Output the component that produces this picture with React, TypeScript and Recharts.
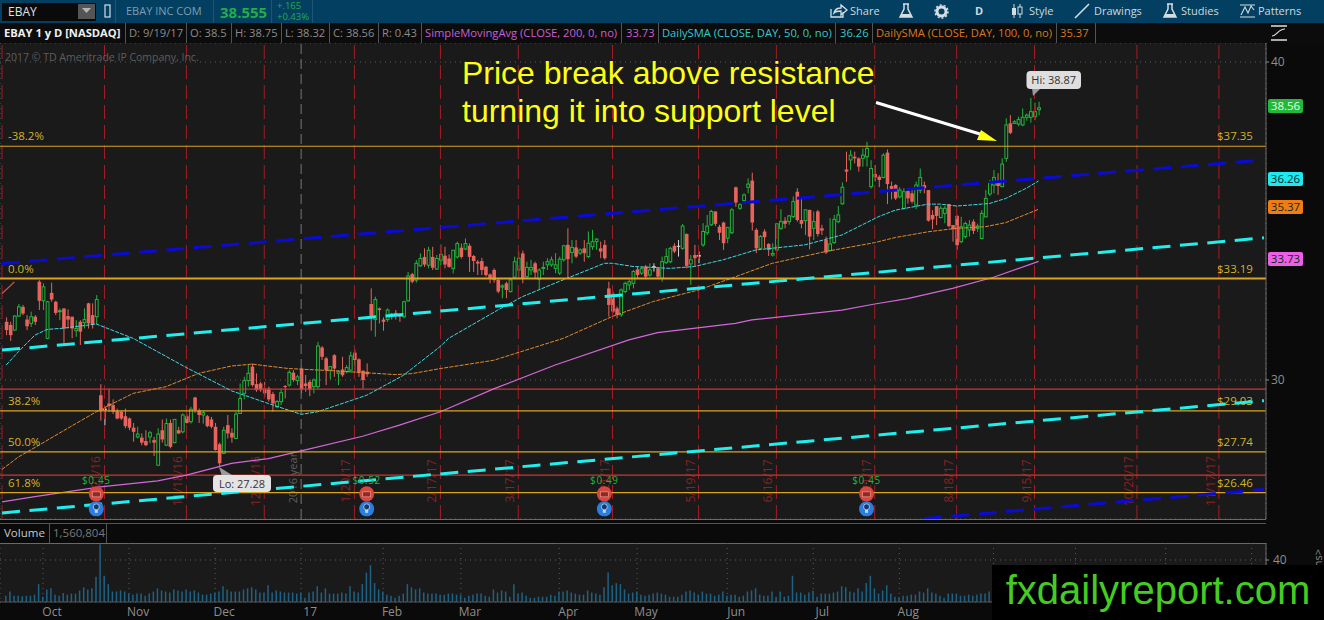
import {
  Bar,
  CartesianGrid,
  ComposedChart,
  Line,
  ReferenceDot,
  ReferenceLine,
  XAxis,
  YAxis,
} from "recharts";

// daily bars as [open, high, low, close]
const sep16 = [
  [31.83, 31.97, 31.41, 31.57], [31.73, 31.83, 31.23, 31.41], [31.57, 32.04, 31.55, 32.01],
  [32.01, 32.39, 31.99, 32.30], [32.30, 32.36, 32.04, 32.09], [31.90, 32.04, 31.57, 31.69],
  [31.78, 32.15, 31.67, 31.99], [31.99, 32.04, 31.73, 31.83], [33.09, 33.14, 32.20, 32.49],
];
const oct16 = [
  [32.49, 33.04, 32.20, 32.93], [31.31, 32.49, 31.28, 32.46], [32.74, 33.06, 32.46, 32.53],
  [32.46, 32.49, 32.04, 32.11], [32.15, 32.25, 31.88, 32.18], [32.25, 32.25, 31.15, 31.62],
  [32.01, 32.22, 31.62, 31.90], [31.99, 31.99, 31.31, 31.62], [31.55, 31.88, 31.36, 31.62],
  [31.83, 31.88, 31.10, 31.52], [31.80, 32.25, 31.62, 31.90], [32.41, 32.43, 31.62, 31.78],
  [32.04, 32.41, 31.62, 31.73], [31.99, 32.67, 31.76, 32.53], [29.52, 29.87, 28.72, 29.03],
  [29.05, 29.16, 28.58, 29.10], [29.26, 29.73, 29.00, 29.18], [29.21, 29.39, 28.93, 29.00],
  [29.03, 29.10, 28.76, 28.79], [29.00, 29.03, 28.74, 28.79], [28.86, 29.10, 28.48, 28.55],
];
const nov16 = [
  [28.79, 28.82, 28.42, 28.50], [28.50, 28.65, 28.06, 28.37], [28.21, 28.53, 28.16, 28.30],
  [28.19, 28.32, 27.95, 28.03], [28.08, 28.42, 27.92, 27.95], [28.21, 28.40, 28.01, 28.34],
  [28.11, 28.21, 27.61, 28.03], [27.32, 28.48, 27.32, 28.30], [28.42, 28.76, 28.03, 28.13],
  [27.95, 28.79, 27.92, 28.63], [28.65, 28.76, 27.85, 27.90], [28.03, 28.76, 28.01, 28.76],
  [28.42, 28.53, 28.30, 28.32], [28.37, 28.95, 28.32, 28.90], [28.86, 28.93, 28.63, 28.65],
  [28.69, 29.16, 28.63, 29.08], [29.45, 29.47, 28.97, 29.05], [29.03, 29.10, 28.65, 28.90],
  [28.90, 29.03, 28.63, 28.97], [28.86, 28.90, 28.51, 28.55], [28.76, 28.84, 28.48, 28.53],
];
const dec16 = [
  [28.53, 28.65, 27.78, 27.80], [27.98, 28.03, 27.28, 27.38], [27.69, 28.53, 27.67, 28.42],
  [28.58, 28.90, 28.16, 28.32], [28.34, 28.48, 28.03, 28.19], [28.16, 29.00, 28.14, 28.93],
  [28.95, 29.89, 28.93, 29.42], [29.58, 30.10, 29.39, 29.98], [29.98, 30.47, 29.79, 30.21],
  [30.42, 30.52, 29.79, 29.84], [29.87, 30.21, 29.63, 29.68], [29.89, 29.94, 29.63, 29.68],
  [29.73, 29.94, 29.47, 29.58], [29.73, 29.79, 29.32, 29.39], [29.56, 29.63, 29.00, 29.26],
  [29.16, 29.37, 29.11, 29.32], [29.32, 29.73, 29.21, 29.60], [29.81, 29.84, 29.42, 29.79],
  [29.84, 30.31, 29.79, 30.24], [30.23, 30.31, 29.94, 30.00], [29.98, 30.16, 29.84, 30.10],
];
const jan17 = [
  [30.36, 30.39, 29.58, 29.70], [29.89, 30.16, 29.63, 29.81], [29.94, 30.00, 29.49, 29.70],
  [29.79, 30.05, 29.58, 30.00], [29.79, 31.20, 29.73, 31.07], [31.02, 31.07, 30.63, 30.73],
  [30.68, 30.73, 29.84, 30.31], [30.31, 30.44, 30.02, 30.42], [30.78, 30.81, 30.10, 30.36],
  [30.21, 30.31, 29.84, 30.26], [30.33, 30.73, 30.10, 30.15], [30.26, 30.47, 30.21, 30.39],
  [30.31, 30.89, 30.23, 30.76], [30.86, 30.96, 30.23, 30.63], [30.65, 30.68, 30.10, 30.23],
  [30.29, 30.31, 29.73, 30.00], [30.26, 30.52, 30.10, 30.18], [32.39, 32.88, 31.55, 32.01],
  [31.90, 32.62, 31.36, 32.53], [32.25, 32.28, 31.78, 32.20],
];
const feb17 = [
  [31.90, 31.97, 31.55, 31.83], [31.90, 32.25, 31.83, 32.20], [32.09, 32.11, 31.90, 32.01],
  [32.11, 32.20, 31.90, 32.01], [32.04, 32.09, 31.83, 31.99], [31.99, 32.49, 31.94, 32.46],
  [32.49, 33.40, 32.46, 33.27], [33.33, 33.37, 33.04, 33.09], [33.14, 33.77, 33.06, 33.67],
  [33.59, 33.98, 33.56, 33.82], [33.87, 34.14, 33.56, 33.63], [33.61, 34.19, 33.51, 34.08],
  [33.87, 34.19, 33.46, 33.53], [33.49, 33.93, 33.46, 33.82], [33.77, 34.26, 33.61, 33.95],
  [33.91, 34.19, 33.51, 33.63], [33.82, 33.95, 33.53, 33.56], [33.51, 34.08, 33.35, 34.08],
  [33.87, 34.35, 33.82, 34.29],
];
const mar17 = [
  [34.16, 34.29, 33.82, 33.87], [34.12, 34.45, 34.08, 34.29], [34.22, 34.29, 33.40, 33.87],
  [33.90, 33.93, 33.40, 33.74], [33.72, 33.77, 33.30, 33.66], [33.74, 33.84, 33.30, 33.46],
  [33.56, 33.59, 33.25, 33.30], [33.32, 33.35, 33.04, 33.19], [33.46, 33.51, 33.06, 33.14],
  [33.15, 33.18, 32.73, 32.78], [32.92, 33.01, 32.57, 32.96], [33.04, 33.09, 32.57, 32.83],
  [32.78, 33.20, 32.75, 33.15], [33.23, 33.88, 33.20, 33.72], [33.46, 34.04, 33.20, 33.83],
  [33.98, 34.07, 33.04, 33.20], [33.25, 33.72, 33.20, 33.54], [33.46, 33.78, 33.30, 33.54],
  [33.67, 33.72, 33.20, 33.38], [33.17, 33.51, 32.83, 33.46], [33.51, 33.72, 33.30, 33.54],
  [33.62, 33.83, 33.46, 33.72], [33.62, 33.88, 33.56, 33.78], [33.51, 33.99, 33.36, 33.62],
];
const apr17 = [
  [33.36, 33.88, 33.30, 33.80], [33.78, 34.25, 33.72, 34.22], [34.25, 34.77, 33.20, 33.80],
  [34.01, 34.40, 33.67, 34.17], [34.17, 34.40, 33.83, 33.88], [33.99, 34.14, 33.93, 34.09],
  [34.14, 34.40, 33.72, 33.99], [33.88, 34.67, 33.83, 34.30], [34.19, 34.72, 34.09, 34.35],
  [34.35, 34.46, 34.09, 34.43], [34.14, 34.35, 33.83, 34.04], [34.25, 34.40, 33.78, 33.83],
  [32.88, 33.09, 31.99, 32.36], [32.71, 32.78, 32.10, 32.15], [32.25, 32.31, 31.94, 32.05],
  [32.05, 32.88, 31.99, 32.83], [32.78, 33.09, 32.73, 33.04], [32.99, 33.15, 32.83, 33.09],
  [33.04, 33.46, 32.88, 33.41],
];
const may17 = [
  [33.48, 33.57, 33.20, 33.30], [33.36, 33.57, 33.30, 33.51], [33.57, 33.62, 33.17, 33.25],
  [33.30, 33.67, 33.25, 33.46], [33.52, 33.67, 33.41, 33.58], [33.51, 33.54, 33.20, 33.25],
  [33.20, 33.88, 33.09, 33.72], [33.69, 34.14, 33.65, 33.88], [33.72, 34.19, 33.67, 34.14],
  [34.22, 34.30, 33.99, 34.04], [34.20, 34.40, 33.88, 34.22], [34.14, 34.91, 34.09, 34.84],
  [34.59, 34.61, 33.51, 33.59], [33.65, 33.93, 32.99, 33.78], [33.93, 34.25, 33.57, 33.83],
  [33.88, 34.04, 33.67, 33.93], [34.25, 34.93, 34.19, 34.67], [34.63, 35.19, 34.56, 34.84],
  [34.88, 35.35, 34.84, 35.30], [35.30, 35.30, 34.84, 34.91], [34.82, 34.88, 34.40, 34.63],
  [34.95, 34.98, 34.09, 34.30],
];
const jun17 = [
  [34.46, 34.82, 34.30, 34.79], [34.63, 35.40, 34.59, 35.35], [36.06, 36.08, 35.45, 35.58],
  [35.40, 35.56, 35.35, 35.51], [35.64, 35.87, 35.56, 35.82], [36.06, 36.34, 35.87, 36.16],
  [36.27, 36.52, 34.70, 34.95], [34.72, 34.77, 33.99, 34.14], [34.14, 34.56, 34.09, 34.51],
  [34.67, 34.74, 34.14, 34.49], [34.28, 34.30, 33.90, 34.09], [33.93, 34.30, 33.88, 33.98],
  [34.09, 34.93, 34.04, 34.91], [34.77, 35.37, 34.72, 34.98], [35.01, 35.12, 34.77, 34.91],
  [34.98, 35.19, 34.88, 35.16], [35.14, 35.77, 35.09, 35.61], [35.92, 36.03, 34.98, 35.03],
  [35.03, 35.71, 34.77, 34.91], [35.01, 35.37, 34.56, 35.35], [35.35, 35.35, 34.11, 34.51],
];
const jul17 = [
  [34.77, 35.30, 34.40, 34.98], [35.30, 35.35, 34.51, 34.59], [34.77, 34.88, 34.56, 34.70],
  [34.40, 34.51, 33.96, 34.01], [34.07, 35.09, 34.04, 34.28], [34.32, 35.19, 34.28, 35.05],
  [34.98, 35.47, 34.93, 35.19], [35.54, 36.21, 35.51, 36.06], [36.62, 37.18, 36.23, 36.55],
  [36.92, 37.23, 36.60, 37.07], [37.02, 37.18, 36.81, 36.97], [36.97, 37.00, 36.55, 36.71],
  [36.97, 37.28, 36.71, 37.07], [37.02, 37.49, 36.71, 37.28], [36.08, 36.91, 36.02, 36.65],
  [36.48, 36.76, 36.24, 36.37], [36.39, 36.44, 36.06, 36.29], [36.37, 37.13, 36.34, 37.07],
  [37.15, 37.25, 35.53, 36.16], [36.10, 36.24, 35.68, 35.94], [36.13, 36.16, 35.66, 35.71],
];
const aug17 = [
  [35.76, 36.06, 35.71, 35.97], [35.40, 36.03, 35.37, 35.92], [35.94, 35.99, 35.55, 35.71],
  [35.87, 35.97, 35.55, 35.61], [35.50, 36.24, 35.37, 36.13], [35.97, 36.65, 35.87, 36.37],
  [36.13, 36.24, 35.87, 36.03], [35.97, 35.97, 34.98, 35.01], [35.19, 35.34, 34.74, 35.05],
  [35.47, 35.47, 34.87, 35.16], [35.11, 35.47, 35.08, 35.40], [35.24, 35.47, 34.93, 35.40],
  [35.53, 35.53, 34.80, 34.84], [34.87, 34.87, 34.35, 34.74], [35.16, 35.19, 34.09, 34.24],
  [34.35, 35.13, 34.30, 34.82], [34.51, 34.98, 34.45, 34.92], [34.72, 35.03, 34.51, 34.87],
  [34.98, 35.05, 34.59, 34.69], [34.77, 34.92, 34.66, 34.84], [34.45, 35.34, 34.42, 35.24],
  [35.13, 35.97, 35.11, 35.71], [35.85, 36.29, 35.78, 36.18],
];
const sep17 = [
  [36.13, 36.60, 35.87, 36.37], [36.24, 36.50, 35.82, 36.10], [36.08, 36.97, 36.06, 36.79],
  [36.97, 38.23, 36.86, 38.02], [38.07, 38.33, 37.73, 37.77], [38.07, 38.17, 38.05, 38.12],
  [38.05, 38.28, 37.98, 38.19], [38.02, 38.54, 37.98, 38.26], [38.26, 38.38, 38.15, 38.33],
  [38.26, 38.87, 38.09, 38.44], [38.28, 38.72, 38.17, 38.44], [38.50, 38.75, 38.32, 38.56],
];
const candles = [
  ...sep16, ...oct16, ...nov16, ...dec16, ...jan17, ...feb17, ...mar17,
  ...apr17, ...may17, ...jun17, ...jul17, ...aug17, ...sep17,
];
const unchangedRows = [25, 159, 165, 170];

// volume, millions of shares
const volumes = [
  6, 10, 6, 6, 5.5, 6, 6, 7, 17, 5, 12, 13, 7, 6, 8.5, 7, 8, 8, 11, 14,
  12, 13, 24, 55, 25, 17, 10, 10, 11, 10, 8, 7, 8, 8, 6, 8, 10, 13, 11, 10,
  9, 12, 11, 10, 12, 10, 11, 9, 7, 7, 8, 9, 10, 15, 12, 10, 10, 10, 12, 13,
  14, 12, 9, 9, 16, 9, 11, 10, 9, 9, 9, 8, 9, 4, 9, 10, 15, 9, 13, 8,
  8, 8, 9, 8, 15, 10, 9, 17, 28, 35, 18, 12, 10, 7, 6, 4, 6, 8, 17, 14,
  12, 13, 9, 8, 8, 8, 7, 7, 8, 8, 7, 7, 4, 6, 7, 8, 8, 6, 5, 12,
  9, 11, 10, 5, 17, 8, 9, 6, 4, 4, 5, 5, 5, 7, 6, 10, 10, 11, 9, 8,
  7, 7, 11, 9, 8, 7, 14, 28, 16, 18, 17, 12, 8, 9, 10, 7, 6, 7, 8, 9,
  8, 7, 5, 5, 5, 7, 10, 11, 9, 7, 10, 8, 8, 6, 7, 10, 6, 7, 7, 5,
  6, 10, 11, 13, 7, 6, 6, 10, 5, 10, 5, 6, 25, 9, 9, 7, 9, 11, 5, 8,
  8, 8, 9, 10, 15, 14, 10, 9, 13, 10, 18, 25, 13, 8, 11, 16, 8, 5, 4.5, 6,
  6, 7, 7, 10, 9, 13, 9, 8, 6, 4, 8, 8, 8, 6, 6, 7, 6, 7, 8, 8,
  10, 9, 8, 14, 20, 12, 9, 8, 8, 7, 9, 7, 1.56,
];

// moving averages, read at a number of rows; the line joins them
const ma50Rows = [1, 4, 8, 11, 15, 23, 32, 45, 56, 65, 73, 77, 89, 98, 107, 109, 121, 127, 136, 143, 147, 149, 154, 163, 169, 176, 184, 196, 205, 214, 218, 226, 229, 233, 241, 245, 250, 253];
const ma50Values = [30.47, 30.89, 31.41, 31.59, 31.63, 31.76, 31.31, 30.39, 29.66, 29.26, 28.92, 29.0, 29.52, 30.15, 31.06, 31.31, 32.2, 32.62, 33.1, 33.46, 33.67, 33.67, 33.57, 33.51, 33.57, 33.78, 34.09, 34.25, 34.56, 35.14, 35.34, 35.53, 35.53, 35.47, 35.55, 35.71, 36.03, 36.26];
const ma100Rows = [0, 4, 9, 16, 23, 32, 40, 48, 56, 61, 70, 81, 96, 100, 107, 120, 137, 149, 159, 170, 178, 188, 201, 213, 218, 226, 233, 240, 245, 253];
const ma100Values = [27.19, 27.58, 27.95, 28.48, 29.0, 29.58, 29.79, 30.21, 30.44, 30.5, 30.36, 30.29, 30.17, 30.2, 30.36, 30.62, 31.31, 32.0, 32.47, 32.83, 33.2, 33.67, 34.04, 34.32, 34.48, 34.66, 34.77, 34.82, 34.95, 35.37];
const ma200Rows = [0, 8, 24, 38, 45, 56, 65, 73, 88, 97, 107, 120, 135, 153, 160, 179, 183, 205, 213, 221, 232, 242, 253];
const ma200Values = [26.17, 26.33, 26.64, 26.83, 27.01, 27.38, 27.53, 27.77, 28.23, 28.58, 29.0, 29.72, 30.47, 31.26, 31.49, 31.78, 31.89, 32.2, 32.39, 32.56, 32.88, 33.23, 33.73];

const fibPrices = [37.35, 33.19, 29.03, 27.74, 26.46];
const fibPercents = ["-38.2%", "0.0%", "38.2%", "50.0%", "61.8%"];
const redLevels = [29.71, 27.01];

// the last four months fall under the watermark, so they carry no label
const monthRows = [10, 31, 52, 73, 93, 112, 136, 155, 177, 198, 219, 242, 262, 284, 305];
const monthLabels = ["Oct", "Nov", "Dec", "17", "Feb", "Mar", "Apr", "May", "Jun", "Jul", "Aug", "", "", "", ""];

const expiryRows = [0, 25, 45, 64, 86, 107, 126, 149, 170, 189, 213, 233, 252, 277, 297];
const expiryLabels = ["", "10/21/16", "11/18/16", "12/16/16", "1/20/17", "2/17/17", "3/17/17", "4/21/17", "5/19/17", "6/16/17", "7/21/17", "8/18/17", "9/15/17", "10/20/17", "11/17/17"];
const yearRow = 73;

const earningsRows = [23, 89, 147, 211];
const dividends = ["$0.45", "$0.52", "$0.49", "$0.45"];

const ROW_COUNT = 309;
const rows = Array.from({ length: ROW_COUNT }, (_, r) => {
  const bar = candles[r - 1];
  const at = (keys: number[], values: number[]) => {
    const i = keys.indexOf(r);
    return i < 0 ? null : values[i];
  };
  return {
    r,
    o: bar ? bar[0] : null,
    h: bar ? bar[1] : null,
    l: bar ? bar[2] : null,
    c: bar ? bar[3] : null,
    vol: r >= 1 && r <= volumes.length ? volumes[r - 1] : null,
    ma50: at(ma50Rows, ma50Values),
    ma100: at(ma100Rows, ma100Values),
    ma200: at(ma200Rows, ma200Values),
  };
});

const UI_FONT = "'Open Sans', 'Noto Sans', sans-serif";
const PANEL = "#1a1a1a";
const GOLD = "#d9a520";

function Candle(props: any) {
  const { x, y, width, height, payload } = props;
  if (payload == null || payload.o == null) return null;
  const { o, h, l, c, r } = payload;
  const px = h > l ? height / (h - l) : 0;
  const cx = x + width / 2;
  const top = y + (h - Math.max(o, c)) * px;
  const bodyH = Math.max(Math.abs(o - c) * px, 1);
  const flat = unchangedRows.includes(r);
  const up = c >= o;
  const color = flat ? "#d4d4d4" : up ? "#22b53c" : "#e8635c";
  return (
    <g>
      <line x1={cx} x2={cx} y1={y} y2={y + height} stroke={color} strokeWidth={1} />
      {up && !flat ? (
        <rect x={cx - 1.4} y={top} width={2.8} height={bodyH} fill={PANEL} stroke={color} strokeWidth={1} />
      ) : (
        <rect x={cx - 1.8} y={top} width={3.6} height={bodyH} fill={color} />
      )}
    </g>
  );
}

const expiryLabel = (text: string) => (props: any) => {
  const vb = props.viewBox;
  if (!vb || !text) return null;
  const tx = vb.x - 4;
  return (
    <text
      x={tx}
      y={438}
      transform={`rotate(-90 ${tx} 438)`}
      textAnchor="middle"
      fill="#8a2222"
      fontSize={12}
      fontFamily={UI_FONT}
    >
      {text}
    </text>
  );
};

const fibLabel = (pct: string, price: number) => (props: any) => {
  const vb = props.viewBox;
  if (!vb) return null;
  return (
    <g fill="#d3b228" fontSize={11.5} fontFamily={UI_FONT}>
      <text x={8} y={vb.y - 6}>{pct}</text>
      <text x={1217} y={vb.y - 6}>{`$${price.toFixed(2)}`}</text>
    </g>
  );
};

function EarningsMark(props: any) {
  const { cx, cy, text } = props;
  if (cx == null) return null;
  return (
    <g fontFamily={UI_FONT}>
      <text x={cx} y={cy - 10} textAnchor="middle" fill="#22b53c" fontSize={10} letterSpacing={0.6}>{text}</text>
      <circle cx={cx} cy={cy} r={7.5} fill="#d8473f" />
      <rect x={cx - 4} y={cy - 2} width={8} height={5} fill="#8c2a24" stroke="#f09a90" strokeWidth={0.7} />
      <circle cx={cx} cy={cy + 15} r={7.5} fill="#2a7de1" />
      <circle cx={cx} cy={cy + 13} r={3} fill="#14396b" stroke="#bcd7f5" strokeWidth={0.8} />
      <rect x={cx - 1.5} y={cy + 16} width={3} height={3} fill="#bcd7f5" />
    </g>
  );
}

function MonthTick(props: any) {
  const { x, payload } = props;
  const label = monthLabels[monthRows.indexOf(payload.value)];
  if (!label) return <g />;
  return (
    <text x={x + 9} y={73} fill="#8e8e8e" fontSize={12} fontFamily={UI_FONT} textAnchor="middle">
      {label}
    </text>
  );
}

function PriceChart() {
  return (
    <ComposedChart
      width={1324}
      height={476}
      data={rows}
      margin={{ top: 0, right: 0, bottom: 0, left: 0 }}
      style={{ position: "absolute", left: 0, top: 43 }}
    >
      <CartesianGrid stroke="#5c5c5c" strokeDasharray="1 4" />
      <XAxis dataKey="r" type="category" ticks={monthRows} interval={0} height={0} tick={false} axisLine={false} tickLine={false} />
      <YAxis
        orientation="right"
        width={58}
        domain={[25.629, 40.597]}
        ticks={[30, 40]}
        allowDataOverflow
        tick={{ fill: "#8e8e8e", fontSize: 12, fontFamily: UI_FONT }}
        tickSize={3}
        tickLine={{ stroke: "#8e8e8e" }}
        axisLine={{ stroke: "#6a6a6a" }}
      />
      {expiryRows.map((r, i) => (
        <ReferenceLine
          key={r}
          x={r}
          stroke="#a31d24"
          strokeDasharray="14 6"
          label={expiryLabel(expiryLabels[i])}
        />
      ))}
      <ReferenceLine
        x={yearRow}
        stroke="#777777"
        strokeDasharray="10 5"
        label={(props: any) => (
          <text
            x={props.viewBox.x - 4}
            y={478 - 43}
            transform={`rotate(-90 ${props.viewBox.x - 4} ${478 - 43})`}
            textAnchor="middle"
            fill="#5f5f5f"
            fontSize={11}
            fontFamily={UI_FONT}
          >
            2016 year
          </text>
        )}
      />
      {redLevels.map((y) => (
        <ReferenceLine key={y} y={y} stroke="#c43a35" strokeWidth={1.2} />
      ))}
      <Bar dataKey={(d: any) => (d.h == null ? null : [d.l, d.h])} barSize={3} shape={Candle} isAnimationActive={false} />
      <Line dataKey="ma200" stroke="#d268d8" strokeWidth={1.2} dot={false} connectNulls isAnimationActive={false} />
      <Line dataKey="ma100" stroke="#e08a2c" strokeWidth={1} strokeDasharray="4 1.2" dot={false} connectNulls isAnimationActive={false} />
      <Line dataKey="ma50" stroke="#3fd8e0" strokeWidth={1} strokeDasharray="4 1.2" dot={false} connectNulls isAnimationActive={false} />
      {fibPrices.map((y, i) => (
        <ReferenceLine
          key={y}
          y={y}
          stroke={GOLD}
          strokeWidth={i === 1 ? 2 : 1.2}
          label={fibLabel(fibPercents[i], y)}
        />
      ))}
      <ReferenceLine segment={[{ x: 0, y: 30.94 }, { x: 308, y: 34.47 }]} stroke="#1ff0ee" strokeWidth={3} strokeDasharray="18 9.5" />
      <ReferenceLine segment={[{ x: 0, y: 25.82 }, { x: 308, y: 29.35 }]} stroke="#1ff0ee" strokeWidth={3} strokeDasharray="18 9.5" />
      <ReferenceLine segment={[{ x: 0, y: 33.66 }, { x: 308, y: 36.92 }]} stroke="#0b0bd6" strokeWidth={3} strokeDasharray="18 9.5" />
      <ReferenceLine segment={[{ x: 225, y: 25.64 }, { x: 308, y: 26.56 }]} stroke="#0b0bd6" strokeWidth={3} strokeDasharray="18 9.5" />
      <ReferenceLine segment={[{ x: 0, y: 32.72 }, { x: 3, y: 33.08 }]} stroke="#c9544e" strokeWidth={1.2} />
      {earningsRows.map((r, i) => (
        <ReferenceDot
          key={r}
          x={r}
          y={26.42}
          r={7}
          shape={(p: any) => <EarningsMark {...p} text={dividends[i]} />}
        />
      ))}
    </ComposedChart>
  );
}

function VolumeChart() {
  return (
    <ComposedChart
      width={1324}
      height={77}
      data={rows}
      margin={{ top: 0, right: 0, bottom: 0, left: 0 }}
      style={{ position: "absolute", left: 0, top: 543 }}
    >
      <CartesianGrid stroke="#5c5c5c" strokeDasharray="1 4" />
      <XAxis
        dataKey="r"
        type="category"
        ticks={monthRows}
        interval={0}
        height={18}
        tick={MonthTick}
        tickLine={false}
        axisLine={{ stroke: "#555555" }}
      />
      <YAxis
        orientation="right"
        width={58}
        domain={[0, 56.2]}
        ticks={[20, 40]}
        tick={(p: any) =>
          p.payload.value === 40 ? (
            <text x={p.x + 2} y={p.y + 4} fill="#8e8e8e" fontSize={12} fontFamily={UI_FONT}>40</text>
          ) : (
            <g />
          )
        }
        tickSize={3}
        tickLine={{ stroke: "#8e8e8e" }}
        axisLine={{ stroke: "#6a6a6a" }}
      />
      <Bar dataKey="vol" fill="#1d6285" barSize={1.5} isAnimationActive={false} />
    </ComposedChart>
  );
}

function Cell({ x, color, bold, children }: any) {
  return (
    <span
      style={{
        position: "absolute",
        left: x,
        top: 26,
        fontSize: 11.2,
        lineHeight: "14px",
        color,
        fontWeight: bold ? 700 : 400,
        whiteSpace: "nowrap",
      }}
    >
      {children}
    </span>
  );
}

function Sep({ x, top = 23, height = 20, color = "#555555" }: any) {
  return <div style={{ position: "absolute", left: x, top, width: 1, height, background: color }} />;
}

function Tool({ x, children }: any) {
  return (
    <span style={{ position: "absolute", left: x, top: 3, fontSize: 11, lineHeight: "16px", color: "#cfd8de", whiteSpace: "nowrap" }}>
      {children}
    </span>
  );
}

function Tag({ top, bg, color = "#0d2b20", children }: any) {
  return (
    <div
      style={{
        position: "absolute",
        left: 1268,
        top,
        width: 35,
        height: 14,
        background: bg,
        borderRadius: 2,
        color,
        fontSize: 11.5,
        lineHeight: "14px",
        textAlign: "center",
      }}
    >
      {children}
    </div>
  );
}

function Toolbar() {
  const flask = (x: number) => (
    <svg style={{ position: "absolute", left: x, top: 2 }} width={16} height={18}>
      <path d="M5 2h6M6 2v5L2 15h12L10 7V2" fill="none" stroke="#d6dde2" strokeWidth={1.5} />
      <path d="M4 12h8l2 3H2z" fill="#d6dde2" />
    </svg>
  );
  return (
    <div style={{ position: "absolute", left: 0, top: 0, width: 1324, height: 23, background: "#033f60", fontFamily: UI_FONT }}>
      <div style={{ position: "absolute", left: 2, top: 3, width: 94, height: 18, background: "#0a0a0a" }} />
      <div style={{ position: "absolute", left: 78, top: 4, width: 17, height: 15, background: "#555555" }} />
      <svg style={{ position: "absolute", left: 82, top: 8 }} width={10} height={6}>
        <path d="M0 0h9L4.5 5z" fill="#b5b5b5" />
      </svg>
      <span style={{ position: "absolute", left: 8, top: 4, fontSize: 12, lineHeight: "16px", color: "#e0e0e0" }}>EBAY</span>
      <svg style={{ position: "absolute", left: 103, top: 4 }} width={10} height={14}>
        <rect x={2} y={1} width={5} height={12} fill="none" stroke="#d6dde2" strokeWidth={1.2} />
      </svg>
      <Sep x={115} top={0} height={23} color="#1d5673" />
      <span style={{ position: "absolute", left: 126, top: 3, fontSize: 11, lineHeight: "16px", color: "#7d9db0" }}>EBAY INC COM</span>
      <Sep x={213} top={0} height={23} color="#1d5673" />
      <span style={{ position: "absolute", left: 220, top: 2, fontSize: 15, lineHeight: "20px", fontWeight: 700, color: "#1fae47" }}>38.555</span>
      <Sep x={271} top={0} height={23} color="#1d5673" />
      <span style={{ position: "absolute", left: 277, top: 1, fontSize: 9.5, lineHeight: "10.5px", color: "#1fae47" }}>+.165<br />+0.43%</span>
      <Sep x={312} top={0} height={23} color="#1d5673" />
      <svg style={{ position: "absolute", left: 830, top: 3 }} width={18} height={16}>
        <path d="M1 6v8h12V9M4 10c1-4 4-5 7-5V2l6 5-6 5V8c-3 0-5 0-7 2z" fill="none" stroke="#d6dde2" strokeWidth={1.3} />
      </svg>
      <Tool x={850}>Share</Tool>
      {flask(898)}
      <svg style={{ position: "absolute", left: 934, top: 4 }} width={15} height={15}>
        <circle cx={7.5} cy={7.5} r={4.5} fill="none" stroke="#d6dde2" strokeWidth={3} />
        <circle cx={7.5} cy={7.5} r={6.5} fill="none" stroke="#d6dde2" strokeWidth={1.5} strokeDasharray="2 2" />
      </svg>
      <span style={{ position: "absolute", left: 975, top: 3, fontSize: 11, lineHeight: "16px", fontWeight: 700, color: "#cfd8de" }}>D</span>
      <svg style={{ position: "absolute", left: 1011, top: 3 }} width={12} height={16}>
        <path d="M3 1v14M9 1v14" stroke="#d6dde2" />
        <rect x={1} y={5} width={4} height={7} fill="#d6dde2" />
        <rect x={7} y={4} width={4} height={7} fill="#033f60" stroke="#d6dde2" />
      </svg>
      <Tool x={1029}>Style</Tool>
      <svg style={{ position: "absolute", left: 1074, top: 3 }} width={16} height={16}>
        <path d="M1 15L15 1" stroke="#d6dde2" strokeWidth={1.6} />
      </svg>
      <Tool x={1094}>Drawings</Tool>
      {flask(1162)}
      <Tool x={1181}>Studies</Tool>
      <svg style={{ position: "absolute", left: 1239, top: 3 }} width={17} height={16}>
        <path d="M1 2h15M1 14h15M2 12l4-8 3 6 3-7 3 4" fill="none" stroke="#d6dde2" strokeWidth={1.1} />
      </svg>
      <Tool x={1258}>Patterns</Tool>
    </div>
  );
}

function InfoRow() {
  return (
    <div style={{ fontFamily: UI_FONT }}>
      <div style={{ position: "absolute", left: 0, top: 23, width: 1324, height: 20, background: "#0c0c0c" }} />
      <Cell x={4} color="#f0f0f0" bold>EBAY 1 y D [NASDAQ]</Cell>
      <Sep x={125} />
      <Cell x={129} color="#8b8b8b">D: 9/19/17</Cell>
      <Sep x={186} />
      <Cell x={190} color="#8b8b8b">O: 38.5</Cell>
      <Sep x={231} />
      <Cell x={235} color="#8b8b8b">H: 38.75</Cell>
      <Sep x={281} />
      <Cell x={285} color="#8b8b8b">L: 38.32</Cell>
      <Sep x={329} />
      <Cell x={333} color="#8b8b8b">C: 38.56</Cell>
      <Sep x={378} />
      <Cell x={382} color="#8b8b8b">R: 0.43</Cell>
      <Sep x={421} />
      <Cell x={425} color="#c95fd0">SimpleMovingAvg (CLOSE, 200, 0, no)</Cell>
      <Sep x={621} />
      <Cell x={626} color="#c95fd0">33.73</Cell>
      <Sep x={658} />
      <Cell x={662} color="#35c9cc">DailySMA (CLOSE, DAY, 50, 0, no)</Cell>
      <Sep x={835} />
      <Cell x={840} color="#35c9cc">36.26</Cell>
      <Sep x={872} />
      <Cell x={876} color="#d9781f">DailySMA (CLOSE, DAY, 100, 0, no)</Cell>
      <Sep x={1056} />
      <Cell x={1060} color="#d9781f">35.37</Cell>
      <Sep x={1095} />
      <svg style={{ position: "absolute", left: 1270, top: 24 }} width={18} height={18}>
        <path d="M1 2h16M1 16h16" stroke="#e0e0e0" strokeWidth={1.4} />
        <path d="M2 12c5 0 6-7 13-7" fill="none" stroke="#e0e0e0" strokeWidth={1.2} />
      </svg>
    </div>
  );
}

function Annotations() {
  return (
    <svg width={1324} height={620} style={{ position: "absolute", left: 0, top: 0 }}>
      <text x={5} y={61} fill="#5e5e5e" fontSize={10.5} fontFamily={UI_FONT}>2017 © TD Ameritrade IP Company, Inc.</text>
      <g fill="#ffff14" fontSize={32} fontFamily="'Liberation Sans', Arial, sans-serif">
        <text x={462} y={84}>Price break above resistance</text>
        <text x={462} y={122}>turning it into support level</text>
      </g>
      <line x1={876} y1={102.5} x2={980} y2={134} stroke="#ffffff" strokeWidth={3} />
      <path d="M997 141L977 140L981 130Z" fill="#ffff14" />
      <path d="M1032 88L1041 88L1033 96Z" fill="#9a9a9a" />
      <rect x={1026.5} y={71} width={54.5} height={18} rx={4} fill="#dedede" />
      <text x={1053.7} y={84} textAnchor="middle" fill="#333333" fontSize={11} fontFamily={UI_FONT}>Hi: 38.87</text>
      <path d="M219 467L232 475L222 476Z" fill="#9a9a9a" />
      <rect x={213} y={475} width={58} height={17} rx={4} fill="#e4e4e4" />
      <text x={242} y={488} textAnchor="middle" fill="#333333" fontSize={11} fontFamily={UI_FONT}>Lo: 27.28</text>
    </svg>
  );
}

export default function App() {
  return (
    <div style={{ position: "absolute", left: 0, top: 0, width: 1324, height: 620, overflow: "hidden", background: "#0a0a0a", fontFamily: UI_FONT }}>
      <div style={{ position: "absolute", left: 0, top: 43, width: 1266, height: 476, background: PANEL }} />
      <div style={{ position: "absolute", left: 0, top: 519, width: 1266, height: 1, background: "#6a6a6a" }} />
      <div style={{ position: "absolute", left: 0, top: 523, width: 1266, height: 1, background: "#555555" }} />
      <div style={{ position: "absolute", left: 0, top: 543, width: 1266, height: 1, background: "#6a6a6a" }} />
      <div style={{ position: "absolute", left: 0, top: 544, width: 1266, height: 58, background: PANEL }} />
      <PriceChart />
      <VolumeChart />
      <Annotations />
      <Toolbar />
      <InfoRow />
      <span style={{ position: "absolute", left: 4, top: 526, fontSize: 11.5, lineHeight: "14px", color: "#c8c8c8" }}>Volume</span>
      <Sep x={49} top={524} height={19} />
      <span style={{ position: "absolute", left: 53, top: 526, fontSize: 11.5, lineHeight: "14px", color: "#7a7a7a" }}>1,560,804</span>
      <Sep x={106} top={524} height={19} />
      <Tag top={99} bg="#22b83a" color="#e6ffe6">38.56</Tag>
      <Tag top={172} bg="#1fe8ee">36.26</Tag>
      <Tag top={200} bg="#f07d14">35.37</Tag>
      <Tag top={252} bg="#ee5fe8">33.73</Tag>
      <span
        style={{
          position: "absolute",
          left: 1312,
          top: 549,
          fontSize: 11,
          lineHeight: "12px",
          color: "#8a8a8a",
          writingMode: "vertical-rl",
          transform: "rotate(180deg)",
        }}
      >
        ns&gt;
      </span>
      <div
        style={{
          position: "absolute",
          left: 992,
          top: 565,
          width: 332,
          height: 55,
          background: "#000000",
          color: "#45cc22",
          fontFamily: "'Liberation Sans', Arial, sans-serif",
          fontSize: 40,
          lineHeight: "50px",
          textAlign: "center",
        }}
      >
        fxdailyreport.com
      </div>
    </div>
  );
}
